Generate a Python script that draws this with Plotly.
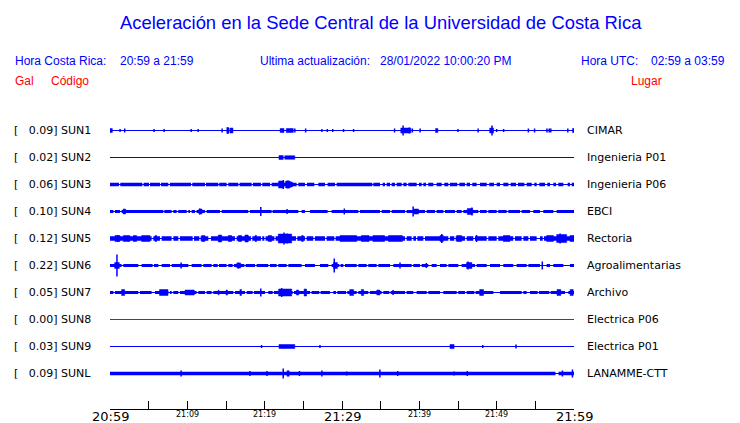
import plotly.graph_objects as go

# ---------------- data ----------------
codes = ["SUN1", "SUN2", "SUN3", "SUN4", "SUN5", "SUN6", "SUN7", "SUN8", "SUN9", "SUNL"]
peak_gal = ["0.09", "0.02", "0.06", "0.10", "0.12", "0.22", "0.05", "0.00", "0.03", "0.09"]
places = ["CIMAR", "Ingenieria P01", "Ingenieria P06", "EBCI", "Rectoria",
          "Agroalimentarias", "Archivo", "Electrica P06", "Electrica P01", "LANAMME-CTT"]

# time axis: minutes after 20:59 (Costa Rica time)
tick_minutes = [0, 5, 10, 15, 20, 25, 30, 35, 40, 45, 50, 55, 60]
tick_labels = ["20:59", "", "21:09", "", "21:19", "", "21:29", "", "21:39", "", "21:49", "", "21:59"]
tick_major = [True, False, False, False, False, False, True, False, False, False, False, False, True]

# per station: background noise half-amplitude, quiet gaps [t0,t1],
# bursts [t0,t1,amp], spikes [t,amp]  (amplitudes in trace units)
SUN1_BASE = 0.0
SUN1_GAPS = []
SUN1_BURSTS = [[0.0, 0.3, 2], [15.1, 15.3, 3], [15.5, 15.9, 2.5], [22.0, 22.5, 2], [22.8, 23.7, 2],
               [37.6, 38.9, 2.5], [42.1, 42.4, 2], [49.1, 49.6, 2.5], [59.8, 60.0, 2]]
SUN1_SPIKES = [[1.3, 1.5], [1.9, 2], [5.7, 1.5], [7.0, 1.5], [10.5, 1.5], [11.4, 1.5], [14.5, 2], [15.3, 3],
               [23.9, 2], [25.3, 2], [27.4, 1.5], [28.1, 1.5], [28.8, 1.5], [30.2, 1.5], [31.5, 1.5],
               [36.8, 2], [37.9, 5], [38.7, 3], [39.1, 2], [40.1, 2], [45.0, 1.5], [47.6, 2], [49.4, 5],
               [50.0, 1.5], [50.9, 1.5], [54.1, 2], [54.9, 2], [56.5, 2], [56.8, 2], [57.0, 2], [59.2, 2]]

SUN2_BASE = 0.0
SUN2_GAPS = []
SUN2_BURSTS = [[21.85, 22.4, 2], [22.6, 23.9, 1.8]]
SUN2_SPIKES = []

SUN3_BASE = 1.7
SUN3_GAPS = [[1.16, 1.33], [4.18, 4.35], [5.04, 5.17], [6.46, 6.59], [7.54, 7.75], [10.47, 10.64],
             [12.28, 12.41], [14.0, 14.13], [15.08, 15.3], [16.59, 16.76], [18.32, 18.49], [19.52, 19.69],
             [20.69, 20.9], [24.13, 24.35], [25.21, 25.47], [26.42, 26.94], [27.8, 28.14], [29.09, 29.31],
             [33.92, 34.05], [34.91, 35.26], [35.56, 35.78], [36.21, 36.42], [36.85, 37.07], [37.71, 37.93],
             [38.36, 38.58], [39.65, 39.96], [40.3, 40.52], [40.86, 41.16], [41.81, 42.24], [42.89, 43.23],
             [43.75, 43.96], [44.91, 45.17], [45.9, 46.12], [46.55, 46.85], [47.41, 47.84], [48.71, 49.05],
             [49.65, 50.0], [50.43, 50.86], [51.51, 51.81], [52.5, 52.76], [53.58, 53.88], [54.53, 54.87],
             [55.17, 55.52], [56.25, 56.55], [56.9, 57.33], [57.67, 57.97], [58.62, 59.18], [59.48, 59.7]]
SUN3_BURSTS = [[21.8, 22.5, 3.5], [22.7, 23.3, 3.5], [23.3, 23.6, 2.5]]
SUN3_SPIKES = [[22.4, 4.5], [23.0, 4]]

SUN4_BASE = 1.6
SUN4_GAPS = [[0.43, 0.64], [1.29, 1.5], [6.89, 7.02], [7.97, 8.19], [8.62, 8.83], [9.91, 10.13],
             [10.34, 10.56], [10.99, 11.2], [12.28, 12.5], [14.22, 14.44], [17.88, 18.1], [20.9, 21.03],
             [24.35, 24.78], [25.21, 25.86], [28.14, 28.66], [32.11, 32.33], [34.91, 35.13], [36.21, 36.42],
             [38.15, 38.36], [40.73, 40.95], [42.02, 42.24], [43.1, 43.32], [44.61, 44.83], [45.47, 45.69],
             [47.63, 47.84], [48.71, 48.92], [50.0, 50.21], [51.29, 51.51], [53.02, 53.23], [54.31, 54.74],
             [55.6, 56.03], [57.33, 57.76]]
SUN4_BURSTS = [[1.7, 2.0, 2.5], [11.5, 11.9, 2.5], [39.3, 39.9, 2.5], [46.2, 46.9, 3]]
SUN4_SPIKES = [[1.9, 2.5], [11.6, 3], [19.5, 4.5], [22.9, 2.5], [30.3, 3], [39.2, 5], [46.8, 4]]

SUN5_BASE = 2.2
SUN5_GAPS = [[5.38, 5.6], [6.46, 6.68], [7.97, 8.19], [8.83, 9.05], [10.69, 10.86], [11.55, 11.72],
             [12.71, 13.06], [16.16, 16.38], [18.23, 18.4], [19.52, 19.69], [19.95, 20.12], [21.25, 21.42],
             [24.05, 24.22], [25.21, 25.43], [26.29, 26.5], [27.8, 28.01], [29.0, 29.18], [38.15, 38.36],
             [39.01, 39.22], [39.57, 39.74], [40.52, 40.73], [43.75, 43.96], [44.52, 44.7], [45.9, 46.12],
             [46.98, 47.2], [48.71, 48.92], [50.0, 50.21], [52.15, 52.37], [53.23, 53.45], [54.1, 54.31],
             [55.17, 55.6], [55.95, 56.12]]
SUN5_BURSTS = [[0.64, 1.29, 3], [1.72, 2.58, 3], [3.01, 3.44, 3], [4.09, 5.17, 3], [5.82, 6.03, 3],
               [11.85, 12.28, 3], [14.0, 14.44, 3.5], [15.3, 15.73, 3], [16.59, 17.02, 3], [17.45, 17.88, 3.5],
               [18.75, 18.96, 3], [20.47, 20.9, 3], [21.76, 23.49, 4.5], [24.78, 24.99, 3], [29.74, 31.9, 3],
               [32.5, 33.5, 3], [34.0, 35.5, 3], [36.0, 37.8, 3], [42.67, 43.1, 3], [44.83, 45.47, 3],
               [50.86, 51.72, 3], [56.46, 57.33, 3], [57.76, 59.05, 4], [59.48, 60.0, 3]]
SUN5_SPIKES = [[1.0, 3.5], [14.2, 3.5], [17.6, 3.5], [22.5, 6], [22.9, 5], [42.9, 4.5], [47.4, 3.5], [58.2, 5]]

SUN6_BASE = 1.4
SUN6_GAPS = [[1.5, 1.72], [3.66, 4.09], [5.51, 5.69], [6.25, 6.68], [7.75, 7.97], [10.13, 10.56],
             [11.85, 12.07], [13.14, 13.36], [13.92, 14.09], [15.08, 15.3], [15.86, 16.03], [17.37, 17.54],
             [18.75, 18.96], [20.47, 20.69], [21.55, 21.76], [22.84, 23.06], [24.78, 25.21], [26.5, 27.15],
             [28.23, 28.66], [29.65, 29.82], [30.17, 30.39], [31.9, 32.11], [33.19, 33.4], [34.48, 34.7],
             [36.21, 36.64], [39.01, 39.22], [40.08, 40.3], [41.16, 41.59], [42.24, 42.67], [43.53, 43.75],
             [45.04, 45.47], [47.2, 47.41], [48.71, 49.14], [50.43, 50.86], [52.15, 52.58], [53.88, 54.1],
             [55.6, 56.46], [56.9, 57.33], [58.62, 59.48]]
SUN6_BURSTS = [[0.6, 1.2, 3], [16.4, 16.9, 2.5], [28.9, 29.4, 3], [46.1, 46.8, 3]]
SUN6_SPIKES = [[0.9, 11], [9.2, 3], [16.6, 3], [29.0, 7], [37.5, 3], [40.9, 2.5], [46.3, 4], [55.9, 4]]

SUN7_BASE = 1.5
SUN7_GAPS = [[0.43, 0.64], [3.66, 3.88], [5.38, 5.82], [7.54, 7.75], [7.97, 8.19], [8.83, 9.05],
             [11.2, 11.42], [12.28, 12.5], [13.14, 13.36], [15.94, 16.16], [17.45, 17.67], [18.44, 18.62],
             [20.04, 20.47], [21.03, 21.2], [23.62, 23.79], [25.86, 26.07], [27.06, 27.24], [28.44, 28.88],
             [29.22, 29.4], [30.52, 30.69], [31.9, 32.11], [33.4, 33.62], [35.13, 35.34], [36.12, 36.29],
             [38.15, 38.36], [39.22, 39.65], [40.95, 41.16], [42.67, 43.1], [44.83, 45.04], [45.9, 46.12],
             [47.11, 47.28], [49.57, 50.43], [53.23, 53.45], [53.88, 54.31], [55.3, 55.47], [56.81, 56.98],
             [58.84, 59.27]]
SUN7_BURSTS = [[1.5, 1.9, 3], [6.4, 7.5, 3], [9.7, 10.9, 2.5], [14.0, 14.1, 2.5], [15.0, 15.2, 2.5],
               [16.8, 17.0, 3], [21.8, 23.5, 3.5], [24.1, 24.4, 2.5], [25.1, 25.4, 3.5], [31.0, 31.5, 3],
               [32.5, 32.8, 3], [34.5, 34.9, 2.5], [47.8, 48.3, 3], [57.8, 58.3, 3], [59.5, 59.9, 3]]
SUN7_SPIKES = [[19.5, 4], [22.2, 4.5], [25.3, 3.5], [36.6, 2.5]]

SUN8_BASE = 0.0
SUN8_GAPS = []
SUN8_BURSTS = []
SUN8_SPIKES = []

SUN9_BASE = 0.0
SUN9_GAPS = []
SUN9_BURSTS = [[21.85, 23.9, 2], [43.96, 44.5, 2]]
SUN9_SPIKES = [[19.6, 1.5], [27.15, 1.5], [48.2, 1.5], [52.5, 2]]

SUNL_BASE = 1.8
SUNL_GAPS = [[57.6, 58.0]]
SUNL_BURSTS = []
SUNL_SPIKES = [[9.2, 3], [18.1, 2.5], [20.3, 2.5], [22.4, 5], [22.95, 3], [23.1, 3], [24.5, 2.5],
               [27.4, 3], [30.6, 2], [34.9, 4], [37.2, 2.5], [44.5, 2], [46.2, 2.5], [58.5, 3], [59.8, 4]]

BASES = [SUN1_BASE, SUN2_BASE, SUN3_BASE, SUN4_BASE, SUN5_BASE, SUN6_BASE, SUN7_BASE, SUN8_BASE, SUN9_BASE, SUNL_BASE]
GAPS = [SUN1_GAPS, SUN2_GAPS, SUN3_GAPS, SUN4_GAPS, SUN5_GAPS, SUN6_GAPS, SUN7_GAPS, SUN8_GAPS, SUN9_GAPS, SUNL_GAPS]
BURSTS = [SUN1_BURSTS, SUN2_BURSTS, SUN3_BURSTS, SUN4_BURSTS, SUN5_BURSTS, SUN6_BURSTS, SUN7_BURSTS,
          SUN8_BURSTS, SUN9_BURSTS, SUNL_BURSTS]
SPIKES = [SUN1_SPIKES, SUN2_SPIKES, SUN3_SPIKES, SUN4_SPIKES, SUN5_SPIKES, SUN6_SPIKES, SUN7_SPIKES,
          SUN8_SPIKES, SUN9_SPIKES, SUNL_SPIKES]

# ---------------- layout constants (page pixels) ----------------
OFF = 8                  # page body margin
W, H = 740 - OFF, 423 - OFF
L, R = 110, 574          # plot area x (page px)
T, B = 103, 409          # plot area y (page px)
ROW = 27.0               # px between traces
ROW0 = 130.5             # page y of first trace centre
T_END = 60
BLUE = "#0000ff"
RED = "#ff0000"
trace_colors = [BLUE] * 10
trace_colors[7] = "#ee0000"


def px_x(px):
    return (px - L) / (R - L)


def px_y(py):
    return (B - py) / (B - T)


def rect_poly(xs, ys, t0, t1, c, a):
    xs += [t0, t1, t1, t0, t0, None]
    ys += [c - a, c - a, c + a, c + a, c - a, None]


fig = go.Figure()
for i in range(len(codes)):
    c = -i
    col = trace_colors[i]
    fig.add_trace(go.Scatter(x=[0, T_END], y=[c, c], mode="lines",
                             line=dict(color=col, width=1), hoverinfo="skip", showlegend=False))
    if BASES[i] > 0:
        xs, ys = [], []
        a = BASES[i] / ROW
        start = 0.0
        for g0, g1 in sorted(GAPS[i]):
            if g0 > start:
                rect_poly(xs, ys, start, g0, c, a)
            start = max(start, g1)
        if start < T_END:
            rect_poly(xs, ys, start, T_END, c, a)
        fig.add_trace(go.Scatter(x=xs, y=ys, mode="lines", fill="toself", fillcolor=col,
                                 line=dict(width=0, color=col), hoverinfo="skip", showlegend=False))
    if BURSTS[i]:
        xs, ys = [], []
        for b0, b1, amp in BURSTS[i]:
            rect_poly(xs, ys, b0, b1, c, amp / ROW)
        fig.add_trace(go.Scatter(x=xs, y=ys, mode="lines", fill="toself", fillcolor=col,
                                 line=dict(width=0.5, color=col), hoverinfo="skip", showlegend=False))
    if SPIKES[i]:
        xs, ys = [], []
        for t, amp in SPIKES[i]:
            xs += [t, t, None]
            ys += [c - amp / ROW, c + amp / ROW, None]
        fig.add_trace(go.Scatter(x=xs, y=ys, mode="lines", line=dict(color=col, width=1.5),
                                 hoverinfo="skip", showlegend=False))

ann = []
LAB_FONT = dict(family="DejaVu Sans", size=11, color="black")
for i in range(len(codes)):
    py = ROW0 + ROW * i
    ann.append(dict(text="[\u00a0\u00a0\u00a0" + peak_gal[i] + "]\u00a0" + codes[i],
                    xref="paper", yref="paper", x=px_x(13), y=px_y(py), xanchor="left", yanchor="middle",
                    showarrow=False, font=LAB_FONT, borderpad=0))
    ann.append(dict(text=places[i], xref="paper", yref="paper", x=px_x(586), y=px_y(py),
                    xanchor="left", yanchor="middle", showarrow=False, font=LAB_FONT, borderpad=0))

# time tick labels, top-aligned just under the axis
for t, lab, major in zip(tick_minutes, tick_labels, tick_major):
    if lab:
        ann.append(dict(text=lab, xref="x", yref="paper", x=t, y=0, xanchor="center", yanchor="top",
                        yshift=1 if major else 0, showarrow=False, borderpad=0,
                        font=dict(family="DejaVu Sans", size=13 if major else 8, color="black")))

HEAD = dict(family="Liberation Sans, Arial", size=12, color=BLUE)
REDF = dict(family="Liberation Sans, Arial", size=12, color=RED)
header = [
    ("Aceleración en la Sede Central de la Universidad de Costa Rica", 381, 22, "center",
     dict(family="Liberation Sans, Arial", size=18.4, color=BLUE)),
    ("Hora Costa Rica:", 14, 61, "left", HEAD),
    ("20:59 a 21:59", 119, 61, "left", HEAD),
    ("Ultima actualización:", 259, 61, "left", HEAD),
    ("28/01/2022 10:00:20 PM", 379, 61, "left", HEAD),
    ("Hora UTC:", 580, 61, "left", HEAD),
    ("02:59 a 03:59", 726, 61, "right", HEAD),
    ("Gal", 14, 81, "left", REDF),
    ("Código", 50, 81, "left", REDF),
    ("Lugar", 630, 81, "left", REDF),
]
for text, x, y, anchor, font in header:
    ann.append(dict(text=text, xref="paper", yref="paper", x=px_x(x), y=px_y(y), xanchor=anchor,
                    yanchor="middle", showarrow=False, font=font, borderpad=0))

fig.update_layout(
    width=W, height=H,
    margin=dict(l=L - OFF, r=740 - R, t=T - OFF, b=423 - B, pad=0),
    paper_bgcolor="white", plot_bgcolor="white",
    annotations=ann,
    xaxis=dict(range=[0, T_END], tickmode="array", tickvals=tick_minutes, showticklabels=False,
               ticks="inside", ticklen=8, tickwidth=1, tickcolor="black", automargin=False,
               showline=True, linecolor="black", linewidth=1, showgrid=False, zeroline=False,
               fixedrange=True),
    yaxis=dict(range=[-(B - ROW0) / ROW, (ROW0 - T) / ROW], visible=False, fixedrange=True),
)

fig.write_html("out.html")
